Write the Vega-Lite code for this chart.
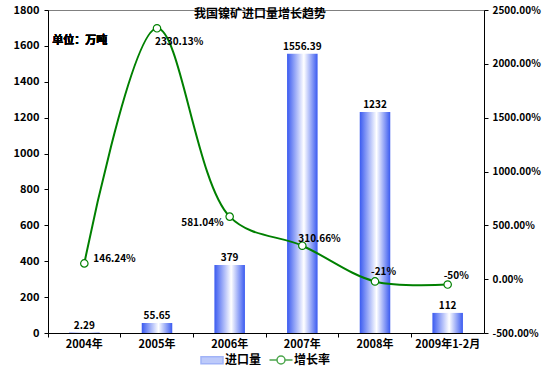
{
  "$schema": "https://vega.github.io/schema/vega-lite/v6.json",
  "width": 436,
  "height": 323,
  "autosize": "none",
  "padding": {"left": 48, "top": 10, "right": 71, "bottom": 47},
  "background": "white",
  "config": {
    "font": "Noto Sans CJK SC",
    "view": {"stroke": "#808080", "strokeWidth": 1},
    "axis": {"labelFont": "Noto Sans CJK SC", "labelFontWeight": "bold", "labelFontSize": 10, "labelColor": "black", "domainColor": "black", "tickColor": "black", "grid": false, "title": null, "labelOverlap": false, "labelFlush": false},
    "text": {"font": "Noto Sans CJK SC", "fontWeight": "bold", "fontSize": 10, "color": "black"},
    "legend": {"layout": {"bottom": {"anchor": "middle"}}}
  },
  "title": {"text": "我国镍矿进口量增长趋势", "anchor": "middle", "offset": -17, "dx": -6, "font": "Noto Sans CJK SC", "fontSize": 12, "fontWeight": "bold", "color": "black"},
  "data": {"values": [
    {"year": "2004年", "imp": 2.29, "rate": 146.24, "label": "146.24%"},
    {"year": "2005年", "imp": 55.65, "rate": 2330.13, "label": "2330.13%"},
    {"year": "2006年", "imp": 379, "rate": 581.04, "label": "581.04%"},
    {"year": "2007年", "imp": 1556.39, "rate": 310.66, "label": "310.66%"},
    {"year": "2008年", "imp": 1232, "rate": -21, "label": "-21%"},
    {"year": "2009年1-2月", "imp": 112, "rate": -50, "label": "-50%"}
  ]},
  "layer": [
    {
      "layer": [
        {
          "mark": {"type": "bar", "width": {"band": 0.42}, "color": {"gradient": "linear", "x1": 0, "y1": 0, "x2": 1, "y2": 0, "stops": [{"offset": 0, "color": "#3A5AF0"}, {"offset": 0.55, "color": "#FFFFFF"}, {"offset": 1, "color": "#3A5AF0"}]}},
          "encoding": {
            "x": {"field": "year", "type": "nominal", "sort": null, "scale": {"paddingInner": 0, "paddingOuter": 0}, "axis": {"orient": "bottom", "labels": false, "ticks": true, "tickSize": 4, "bandPosition": 0, "domain": true}},
            "y": {"field": "imp", "type": "quantitative", "scale": {"domain": [0, 1800], "nice": false}, "axis": {"values": [0, 200, 400, 600, 800, 1000, 1200, 1400, 1600, 1800], "tickCount": 10, "format": "d", "tickSize": 4, "labelPadding": 5, "labelFontSize": 11, "labelOverlap": false}}
          }
        },
        {
          "mark": {"type": "text", "dy": -7},
          "encoding": {
            "x": {"field": "year", "type": "nominal", "sort": null},
            "y": {"field": "imp", "type": "quantitative"},
            "text": {"field": "imp", "type": "quantitative"}
          }
        },
        {
          "mark": {"type": "text", "align": "left", "dx": -32, "fontSize": 11},
          "encoding": {
            "x": {"datum": "2004年", "type": "nominal"},
            "y": {"datum": 1625, "type": "quantitative"},
            "text": {"value": "单位：万吨"}
          }
        }
      ]
    },
    {
      "layer": [
        {
          "mark": {"type": "line", "color": "#008000", "strokeWidth": 2, "interpolate": "catmull-rom"},
          "encoding": {
            "x": {"field": "year", "type": "nominal", "sort": null, "axis": {"orient": "bottom", "labels": true, "ticks": false, "domain": false, "labelPadding": 5, "labelAngle": 0, "labelFontSize": 11}},
            "y": {"field": "rate", "type": "quantitative", "scale": {"domain": [-500, 2500], "nice": false}, "axis": {"orient": "right", "values": [-500, 0, 500, 1000, 1500, 2000, 2500], "tickSize": 4, "labelPadding": 4, "labelExpr": "(datum.value < 0 ? '-' : '') + format(abs(datum.value), '.2f') + '%'"}}
          }
        },
        {
          "mark": {"type": "point", "shape": "circle", "filled": true, "fill": "white", "stroke": "#008000", "strokeWidth": 1.2, "size": 55, "opacity": 1},
          "encoding": {
            "x": {"field": "year", "type": "nominal", "sort": null},
            "y": {"field": "rate", "type": "quantitative"}
          }
        },
        {
          "transform": [{"filter": "datum.year == '2004年'"}],
          "mark": {"type": "text", "align": "left", "dx": 9, "dy": -4},
          "encoding": {"x": {"field": "year", "type": "nominal", "sort": null}, "y": {"field": "rate", "type": "quantitative"}, "text": {"field": "label"}}
        },
        {
          "transform": [{"filter": "datum.year == '2005年'"}],
          "mark": {"type": "text", "align": "left", "dx": -2, "dy": 14},
          "encoding": {"x": {"field": "year", "type": "nominal", "sort": null}, "y": {"field": "rate", "type": "quantitative"}, "text": {"field": "label"}}
        },
        {
          "transform": [{"filter": "datum.year == '2006年'"}],
          "mark": {"type": "text", "align": "right", "dx": -6, "dy": 6},
          "encoding": {"x": {"field": "year", "type": "nominal", "sort": null}, "y": {"field": "rate", "type": "quantitative"}, "text": {"field": "label"}}
        },
        {
          "transform": [{"filter": "datum.year == '2007年'"}],
          "mark": {"type": "text", "align": "left", "dx": -4, "dy": -7},
          "encoding": {"x": {"field": "year", "type": "nominal", "sort": null}, "y": {"field": "rate", "type": "quantitative"}, "text": {"field": "label"}}
        },
        {
          "transform": [{"filter": "datum.year == '2008年' || datum.year == '2009年1-2月'"}],
          "mark": {"type": "text", "align": "left", "dx": -4, "dy": -9},
          "encoding": {"x": {"field": "year", "type": "nominal", "sort": null}, "y": {"field": "rate", "type": "quantitative"}, "text": {"field": "label"}}
        }
      ]
    },
    {
      "data": {"values": [{"s": "进口量"}, {"s": "增长率"}]},
      "transform": [{"filter": "false"}],
      "mark": {"type": "point", "filled": true},
      "encoding": {
        "shape": {"field": "s", "type": "nominal", "scale": {"domain": ["进口量", "增长率"], "range": ["M-1.1,-0.35H1.1V0.35H-1.1Z", "M-1.15,0H-0.4M0.4,0H1.15M0.4,0A0.4,0.4 0 1 1 -0.4,0A0.4,0.4 0 1 1 0.4,0Z"]}, "legend": {"orient": "bottom", "direction": "horizontal", "title": null, "symbolSize": 400, "symbolStrokeWidth": 1.5, "labelFont": "Noto Sans CJK SC", "labelFontWeight": "bold", "labelFontSize": 12, "labelColor": "black", "labelOffset": 2, "columnPadding": 4, "offset": 0}},
        "fill": {"field": "s", "type": "nominal", "scale": {"domain": ["进口量", "增长率"], "range": ["#7A94F5", "#FFFFFF"]}},
        "stroke": {"field": "s", "type": "nominal", "scale": {"domain": ["进口量", "增长率"], "range": ["#7A94F5", "#008000"]}}
      }
    }
  ],
  "resolve": {"scale": {"y": "independent"}, "axis": {"x": "independent"}}
}
